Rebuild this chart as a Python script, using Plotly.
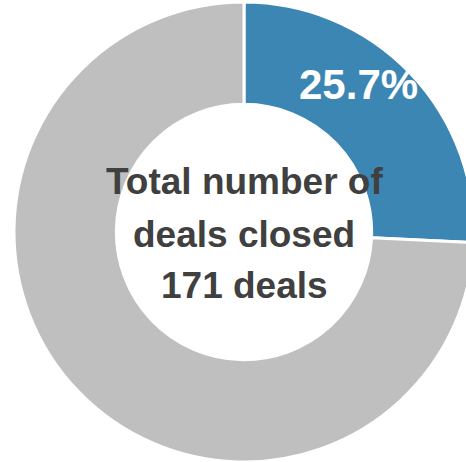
import plotly.graph_objects as go

# Deal outcomes
categories = ["Won", "Other"]
deal_counts = [44, 127]
total_deals = sum(deal_counts)
center_lines = ["Total number of", "deals closed", f"{total_deals} deals"]

BLUE = "#3c86b4"
GREY = "#bfbfbf"
TEXT = "#404040"
FONT = "Liberation Sans, Arial, sans-serif"

W, H = 488, 462
ML, MR, MT, MB = 14, 14, 2, 0
PW, PH = W - ML - MR, H - MT - MB


def px_to_paper(x, y):
    return (x - ML) / PW, 1 - (y - MT) / PH


fig = go.Figure(
    go.Pie(
        labels=categories,
        values=deal_counts,
        hole=0.555,
        sort=False,
        direction="clockwise",
        rotation=0,
        marker=dict(colors=[BLUE, GREY], line=dict(color="white", width=3)),
        textinfo="none",
        hoverinfo="label+percent",
        showlegend=False,
    )
)

annotations = []
share = deal_counts[0] / total_deals * 100
x, y = px_to_paper(358, 85)
annotations.append(dict(x=x, y=y, xref="paper", yref="paper", text=f"{share:.1f}%",
                        showarrow=False, xanchor="center", yanchor="middle",
                        font=dict(family=FONT, size=42, color="white", weight="bold")))

for line, ypx in zip(center_lines, [182, 234, 285.5]):
    x, y = px_to_paper(244, ypx)
    annotations.append(dict(x=x, y=y, xref="paper", yref="paper", text=line,
                            showarrow=False, xanchor="center", yanchor="middle",
                            font=dict(family=FONT, size=37, color=TEXT, weight="bold")))

fig.update_layout(
    width=W, height=H,
    margin=dict(l=ML, r=MR, t=MT, b=MB, pad=0),
    paper_bgcolor="white",
    plot_bgcolor="white",
    annotations=annotations,
)

fig.write_html("out.html", post_script="document.body.style.overflow='hidden';document.body.style.margin='0';")
